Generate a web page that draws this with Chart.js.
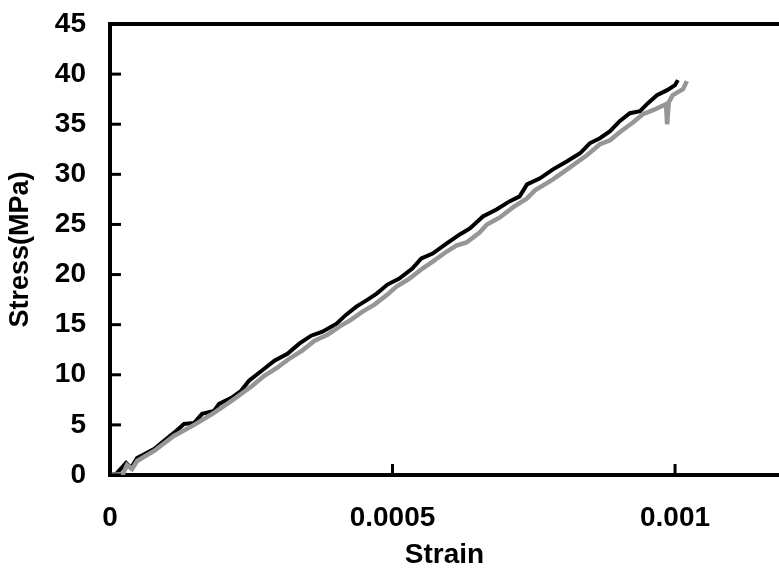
<!DOCTYPE html>
<html>
<head>
<meta charset="utf-8">
<script src="https://cdn.jsdelivr.net/npm/chart.js@4"></script>
<style>
  html, body { margin: 0; padding: 0; background: #fff; }
  #wrap { width: 779px; height: 574px; }
</style>
</head>
<body>
<div id="wrap"><canvas id="chart" width="779" height="574"></canvas></div>
<script>
// Strain / stress readings for the two specimens
const blackStrain = [0, 0.0000106, 0.0000284, 0.0000372, 0.0000479, 0.000078, 0.0000957, 0.000113, 0.000131, 0.000149,
    0.000163, 0.000184, 0.000193, 0.000215, 0.000232, 0.000246, 0.000273, 0.000291, 0.000314, 0.000335,
    0.000356, 0.000376, 0.000401, 0.000418, 0.000436, 0.000456, 0.000472, 0.000491, 0.000512, 0.000535,
    0.000551, 0.000571, 0.000596, 0.000619, 0.000637, 0.00066, 0.000684, 0.000707, 0.000725, 0.000738,
    0.000761, 0.000784, 0.000809, 0.000832, 0.000849, 0.000867, 0.000885, 0.000902, 0.00092, 0.000938,
    0.000952, 0.000968, 0.000986, 0.001, 0.001005];
const blackStress = [0, 0.1, 1.2, 0.7, 1.7, 2.6, 3.4, 4.2, 5.1, 5.2,
    6.1, 6.4, 7.1, 7.7, 8.4, 9.4, 10.6, 11.4, 12.1, 13.1,
    13.9, 14.3, 15.1, 16.0, 16.8, 17.5, 18.1, 19.0, 19.6, 20.6,
    21.6, 22.1, 23.1, 24.0, 24.6, 25.8, 26.5, 27.3, 27.8, 29.0,
    29.6, 30.5, 31.3, 32.1, 33.1, 33.6, 34.3, 35.3, 36.1, 36.3,
    37.1, 37.9, 38.4, 38.9, 39.4];

const grayStrain = [0, 0.000023, 0.00003, 0.000039, 0.000048, 0.000078, 0.000113, 0.000149, 0.000184, 0.000215,
    0.000252, 0.000273, 0.000296, 0.000317, 0.00034, 0.000362, 0.000385, 0.000406, 0.000427, 0.000447,
    0.000468, 0.000491, 0.000507, 0.00053, 0.000553, 0.000571, 0.000596, 0.000613, 0.000631, 0.000654,
    0.000667, 0.00069, 0.000713, 0.000738, 0.000752, 0.000784, 0.000814, 0.000844, 0.000867, 0.000885,
    0.000902, 0.000926, 0.000943, 0.000961, 0.000984, 0.000986, 0.000989, 0.000996, 0.001014, 0.001021];
const grayStress = [0, 0.1, 1.0, 0.6, 1.4, 2.4, 3.9, 5.0, 6.2, 7.4,
    8.9, 9.9, 10.7, 11.6, 12.4, 13.4, 14.0, 14.8, 15.5, 16.3,
    17.0, 18.0, 18.8, 19.6, 20.6, 21.3, 22.3, 22.9, 23.2, 24.2,
    25.0, 25.7, 26.7, 27.6, 28.4, 29.5, 30.7, 31.9, 33.0, 33.4,
    34.2, 35.2, 36.0, 36.4, 37.0, 35.0, 37.2, 37.9, 38.5, 39.3];

const xTicks = [0, 0.0005, 0.001];
const xTickLabels = ['0', '0.0005', '0.001'];
const yTicks = [0, 5, 10, 15, 20, 25, 30, 35, 40, 45];

const toPoints = (xs, ys) => xs.map((x, i) => ({ x: x, y: ys[i] }));
const FONT = '"Liberation Sans", Arial, sans-serif';

// inward tick marks + top frame line
const frame = {
    id: 'frame',
    afterDraw(chart) {
        const ctx = chart.ctx;
        const area = chart.chartArea;
        const xs = chart.scales.x, ys = chart.scales.y;
        ctx.save();
        ctx.strokeStyle = '#000';
        ctx.lineWidth = 4;
        ctx.beginPath();
        ctx.moveTo(area.left - 2, area.top);
        ctx.lineTo(area.right, area.top);
        ctx.stroke();
        ctx.lineWidth = 3;
        yTicks.forEach(v => {
            const y = ys.getPixelForValue(v);
            ctx.beginPath();
            ctx.moveTo(area.left, y);
            ctx.lineTo(area.left + 11, y);
            ctx.stroke();
        });
        xTicks.forEach(v => {
            const x = xs.getPixelForValue(v);
            ctx.beginPath();
            ctx.moveTo(x, area.bottom);
            ctx.lineTo(x, area.bottom - 11);
            ctx.stroke();
        });
        ctx.restore();
    }
};

const ctx = document.getElementById('chart').getContext('2d');
const stressChart = new Chart(ctx, {
    type: 'line',
    data: {
        datasets: [
            {
                label: 'Specimen 1',
                data: toPoints(blackStrain, blackStress),
                borderColor: '#000',
                borderWidth: 4,
                pointRadius: 0,
                tension: 0,
                order: 1
            },
            {
                label: 'Specimen 2',
                data: toPoints(grayStrain, grayStress),
                borderColor: '#969696',
                borderWidth: 4.5,
                pointRadius: 0,
                tension: 0,
                order: 0
            }
        ]
    },
    options: {
        responsive: false,
        animation: false,
        layout: { padding: { top: 24, right: 0, left: 0, bottom: 0 } },
        plugins: { legend: { display: false }, tooltip: { enabled: false } },
        scales: {
            x: {
                type: 'linear',
                min: 0,
                max: 0.001184,
                afterFit: s => { s.height = 99; s.paddingLeft = 0; s.paddingRight = 0; },
                afterBuildTicks: s => { s.ticks = xTicks.map(v => ({ value: v })); },
                grid: { drawOnChartArea: false, drawTicks: false },
                border: { color: '#000', width: 4 },
                ticks: {
                    padding: 26,
                    color: '#000',
                    maxRotation: 0,
                    font: { family: FONT, size: 28, weight: 'bold' },
                    callback: v => xTickLabels[xTicks.indexOf(v)]
                },
                title: {
                    display: true,
                    text: 'Strain',
                    color: '#000',
                    padding: { top: 0, bottom: 2 },
                    font: { family: FONT, size: 28, weight: 'bold' }
                }
            },
            y: {
                min: 0,
                max: 45,
                afterFit: s => { s.width = 110; s.paddingTop = 0; s.paddingBottom = 0; },
                afterBuildTicks: s => { s.ticks = yTicks.map(v => ({ value: v })); },
                grid: { drawOnChartArea: false, drawTicks: false },
                border: { color: '#000', width: 4 },
                ticks: {
                    padding: 24,
                    color: '#000',
                    font: { family: FONT, size: 28, weight: 'bold' }
                },
                title: {
                    display: true,
                    text: 'Stress(MPa)',
                    color: '#000',
                    padding: { top: 4, bottom: 0 },
                    font: { family: FONT, size: 27, weight: 'bold' }
                }
            }
        }
    },
    plugins: [frame]
});
</script>
</body>
</html>
